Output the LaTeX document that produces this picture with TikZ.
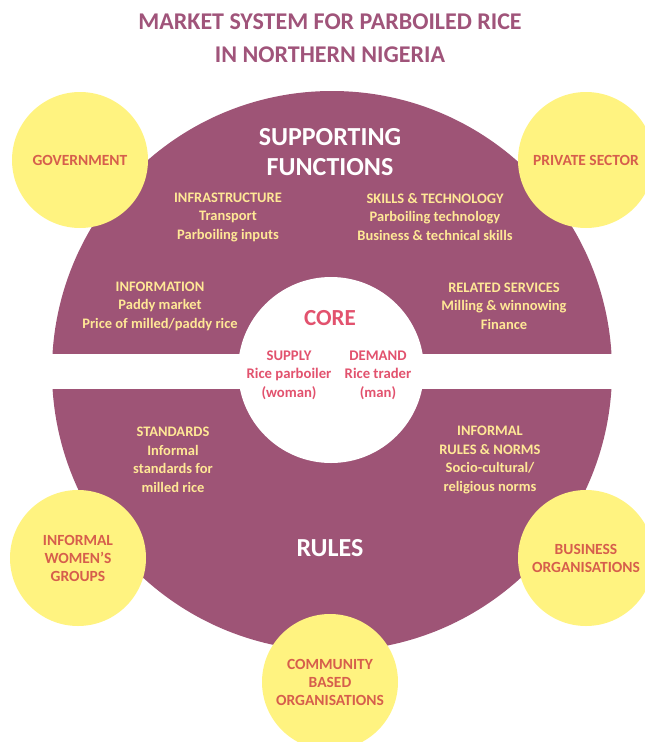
\documentclass[tikz,border=0pt]{standalone}
\usepackage{fontspec}
\setmainfont{Carlito}
\usetikzlibrary{positioning}
\definecolor{plum}{RGB}{158,84,118}
\definecolor{sun}{RGB}{255,243,128}
\definecolor{brick}{RGB}{214,94,76}
\definecolor{rose}{RGB}{226,82,110}
\definecolor{cream}{RGB}{255,232,150}
\definecolor{mauve}{RGB}{160,84,122}
\tikzstyle{actor}=[circle,fill=sun,minimum size=136pt,inner sep=0pt,align=center,text=brick,font=\bfseries\fontsize{15.5}{18}\selectfont]
\tikzstyle{heading}=[align=center,text=white,font=\bfseries\fontsize{26}{30}\selectfont]
\tikzstyle{field}=[align=center,text=cream,font=\bfseries\fontsize{14.5}{18.5}\selectfont]
\tikzstyle{corefield}=[align=center,text=rose,font=\bfseries\fontsize{14.7}{18.5}\selectfont]

\begin{document}
\begin{tikzpicture}[x=1pt,y=-1pt]
    \useasboundingbox (0,0) rectangle (645,742);

    % title
    \node[align=center,text=mauve,font=\bfseries\fontsize{24}{33}\selectfont] (title) at (330,38)
        {MARKET SYSTEM FOR PARBOILED RICE\\IN NORTHERN NIGERIA};

    % market system rings
    \node[circle,fill=plum,minimum size=560pt,inner sep=0pt] (system) at (332,371) {};
    \fill[white] ([xshift=-2pt,yshift=-17.5pt]system.west) rectangle ([xshift=2pt,yshift=17.5pt]system.east);
    \node[circle,fill=white,minimum size=186pt,inner sep=0pt] (core) at (331,370) {};

    \node[heading] (supporting) at (330,152) {SUPPORTING\\FUNCTIONS};
    \node[heading] (rules) at (330,548) {RULES};
    \node[text=rose,font=\bfseries\fontsize{23}{26}\selectfont] (coretitle) at (330,318) {CORE};

    % functions and rules
    \foreach \pos/ \name/ \text in {{(228,217)/infra/{INFRASTRUCTURE\\Transport\\Parboiling inputs}},
        {(435,217)/skills/{SKILLS \& TECHNOLOGY\\Parboiling technology\\Business \& technical skills}},
        {(160,306)/info/{INFORMATION\\Paddy market\\Price of milled/paddy rice}},
        {(504,306)/services/{RELATED SERVICES\\Milling \& winnowing\\Finance}},
        {(173,460)/standards/{STANDARDS\\Informal\\standards for\\milled rice}},
        {(490,460)/norms/{INFORMAL\\RULES \& NORMS\\Socio-cultural/\\religious norms}}}
        \node[field] (\name) at \pos {\text};

    \node[corefield] (supply) at (289,375) {SUPPLY\\Rice parboiler\\(woman)};
    \node[corefield] (demand) at (378,375) {DEMAND\\Rice trader\\(man)};

    % actors
    \foreach \pos/ \name/ \text in {{(80,160)/gov/{GOVERNMENT}},
        {(586,160)/private/{PRIVATE SECTOR}},
        {(78,558)/women/{INFORMAL\\WOMEN'S\\GROUPS}},
        {(586,558)/business/{BUSINESS\\ORGANISATIONS}},
        {(330,682)/community/{COMMUNITY\\BASED\\ORGANISATIONS}}}
        \node[actor] (\name) at \pos {\text};

\end{tikzpicture}
\end{document}
